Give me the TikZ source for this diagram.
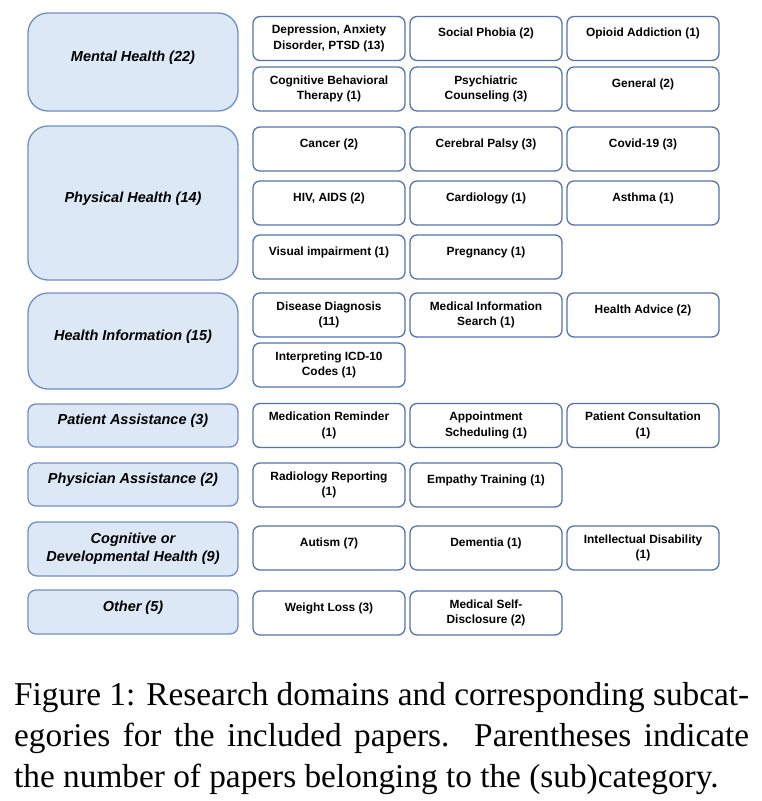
\documentclass[tikz,border=0pt]{standalone}
\usepackage{fontspec}
\setmainfont{Liberation Sans}
\newfontfamily\capfont{Liberation Serif}
\definecolor{catfill}{HTML}{DCE8F5}
\definecolor{catline}{HTML}{6F8FC4}
\definecolor{subline}{HTML}{5474AE}
\begin{document}
\begin{tikzpicture}[x=1pt,y=-1pt,line join=round,
		cat/.style={draw=catline,fill=catfill,line width=1.3pt,minimum width=210pt,inner sep=0pt,align=center,font=\fontsize{14.5}{18}\selectfont\bfseries\itshape},
		cone/.style={text height=11pt,text depth=12.5pt},
		sub/.style={draw=subline,fill=white,line width=1.3pt,rounded corners=7pt,minimum width=152pt,minimum height=44pt,inner sep=0pt,align=center,font=\fontsize{11.9}{15.5}\selectfont\bfseries},
		sone/.style={text height=9pt,text depth=12.5pt}]
	\useasboundingbox (0,0) rectangle (762,801);
	% categories
	\node[cat,cone,minimum height=98pt,rounded corners=20pt] (mh) at (133,62) {Mental Health (22)};
	\node[cat,cone,minimum height=154pt,rounded corners=20pt] (ph) at (133,203) {Physical Health (14)};
	\node[cat,cone,minimum height=96pt,rounded corners=20pt] (hi) at (133,341) {Health Information (15)};
	\node[cat,cone,minimum height=43pt,rounded corners=8pt] (pa) at (133,425.5) {Patient Assistance (3)};
	\node[cat,cone,minimum height=43pt,rounded corners=8pt] (py) at (133,484.5) {Physician Assistance (2)};
	\node[cat,minimum height=54pt,rounded corners=9pt] (cd) at (133,549) {Cognitive or\\Developmental Health (9)};
	\node[cat,cone,minimum height=44pt,rounded corners=8pt] (ot) at (133,612) {Other (5)};
	% subcategories, one line
	\foreach \nm/\x/\y/\txt in {mhb/486/38.5/{Social Phobia (2)},mhc/643/38.5/{Opioid Addiction (1)},
			mhf/643/89/{General (2)},pha/329/149/{Cancer (2)},phb/486/149/{Cerebral Palsy (3)},
			phc/643/149/{Covid-19 (3)},phd/329/203/{HIV, AIDS (2)},phe/486/203/{Cardiology (1)},
			phf/643/203/{Asthma (1)},phg/329/257/{Visual impairment (1)},phh/486/257/{Pregnancy (1)},
			hic/643/315/{Health Advice (2)},pyb/486/485/{Empathy Training (1)},cda/329/548/{Autism (7)},
			cdb/486/548/{Dementia (1)},ota/329/613/{Weight Loss (3)}}{
			\node[sub,sone] (\nm) at (\x,\y) {\txt};
		}
	% subcategories, two lines
	\foreach \nm/\x/\y/\txt in {mha/329/38.5/{Depression, Anxiety\\Disorder, PTSD (13)},
			mhd/329/89/{Cognitive Behavioral\\Therapy (1)},mhe/486/89/{Psychiatric\\Counseling (3)},
			hia/329/315/{Disease Diagnosis\\(11)},hib/486/315/{Medical Information\\Search (1)},
			hid/329/365/{Interpreting ICD-10\\Codes (1)},paa/329/425.5/{Medication Reminder\\(1)},
			pab/486/425.5/{Appointment\\Scheduling (1)},pac/643/425.5/{Patient Consultation\\(1)},
			pya/329/485/{Radiology Reporting\\(1)},cdc/643/548/{Intellectual Disability\\(1)},
			otb/486/613/{Medical Self-\\Disclosure (2)}}{
			\node[sub] (\nm) at (\x,\y) {\txt};
		}
	% caption
	\node[anchor=north west,inner sep=0pt,text width=735pt,align=justify,font=\capfont\fontsize{33.3}{41}\selectfont] (cap) at (14,682)
	{Figure 1: Research domains and corresponding subcat-\linebreak egories for the included papers.\ \ Parentheses indicate\linebreak the number of papers belonging to the (sub)category.};
\end{tikzpicture}
\end{document}
